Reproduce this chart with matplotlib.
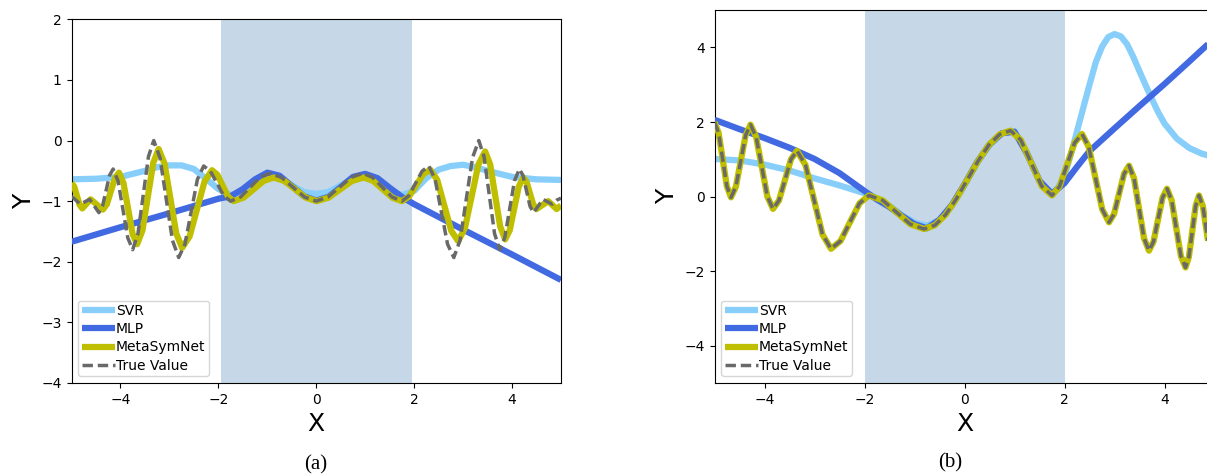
import matplotlib
matplotlib.use("Agg")
import matplotlib.pyplot as plt

# ---------------- Panel (a) data ----------------
true_a_x = [-5.0, -4.91, -4.82, -4.725, -4.63, -4.535, -4.44, -4.3675, -4.295, -4.2225,
            -4.15, -4.05, -3.95, -3.85, -3.75, -3.6425, -3.535, -3.4275, -3.32, -3.1925,
            -3.065, -2.9375, -2.81, -2.6825, -2.555, -2.4275, -2.30, -2.1625, -2.025, -1.8875,
            -1.75, -1.55, -1.35, -1.15, -0.95, -0.7125, -0.475, -0.2375, 0.0,
            0.2375, 0.475, 0.7125, 0.95, 1.15, 1.35, 1.55, 1.75, 1.8875, 2.025,
            2.1625, 2.30, 2.4275, 2.555, 2.6825, 2.81, 2.9375, 3.065, 3.1925, 3.32,
            3.4275, 3.535, 3.6425, 3.75, 3.85, 3.95, 4.05, 4.15, 4.2225, 4.295,
            4.3675, 4.44, 4.535, 4.63, 4.725, 4.82, 4.91, 5.0]
true_a_y = [-0.92, -0.985, -1.05, -1.01, -0.97, -1.08, -1.19, -1.085, -0.83, -0.575,
            -0.47, -0.664, -1.135, -1.606, -1.80, -1.537, -0.90, -0.263, 0.0, -0.282,
            -0.965, -1.648, -1.93, -1.71, -1.175, -0.64, -0.42, -0.505, -0.71, -0.915,
            -1.0, -0.933, -0.77, -0.607, -0.54, -0.607, -0.77, -0.933, -1.0,
            -0.933, -0.77, -0.607, -0.54, -0.607, -0.77, -0.933, -1.0, -0.915, -0.71,
            -0.505, -0.42, -0.64, -1.175, -1.71, -1.93, -1.648, -0.965, -0.282, 0.0,
            -0.263, -0.90, -1.537, -1.80, -1.606, -1.135, -0.664, -0.47, -0.575, -0.83,
            -1.085, -1.19, -1.08, -0.97, -1.01, -1.05, -0.985, -0.95]

meta_a_x = [-5.0, -4.945, -4.89, -4.835, -4.78, -4.695, -4.61, -4.485, -4.36, -4.2775,
            -4.195, -4.1125, -4.03, -3.9375, -3.845, -3.7525, -3.66, -3.55, -3.44, -3.33,
            -3.22, -3.10, -2.98, -2.86, -2.74, -2.5875, -2.435, -2.2825, -2.13, -2.02,
            -1.91, -1.80, -1.69, -1.485, -1.28, -1.075, -0.87, -0.65, -0.43, -0.21,
            0.01, 0.25, 0.49, 0.73, 0.97, 1.165, 1.36, 1.555, 1.75, 1.895,
            2.04, 2.185, 2.33, 2.4725, 2.615, 2.7575, 2.90, 3.0375, 3.175, 3.3125,
            3.45, 3.5525, 3.655, 3.7575, 3.86, 3.9525, 4.045, 4.1375, 4.23, 4.2975,
            4.365, 4.4325, 4.50, 4.62, 4.74, 4.825, 4.91, 5.0]
meta_a_y = [-0.70, -0.761, -0.91, -1.059, -1.12, -1.045, -0.97, -1.055, -1.14, -1.051,
            -0.835, -0.619, -0.53, -0.702, -1.12, -1.538, -1.71, -1.481, -0.925, -0.369,
            -0.14, -0.378, -0.955, -1.532, -1.77, -1.583, -1.13, -0.677, -0.49, -0.564,
            -0.745, -0.926, -1.0, -0.943, -0.805, -0.667, -0.61, -0.667, -0.805, -0.943,
            -1.0, -0.943, -0.805, -0.667, -0.61, -0.667, -0.805, -0.943, -1.0, -0.924,
            -0.74, -0.556, -0.48, -0.652, -1.07, -1.488, -1.66, -1.444, -0.92, -0.396,
            -0.18, -0.392, -0.905, -1.418, -1.63, -1.481, -1.12, -0.759, -0.61, -0.686,
            -0.87, -1.054, -1.13, -1.065, -1.0, -1.065, -1.13, -1.07]

svr_a_x = [-5.0, -4.5, -4.0, -3.5, -3.25, -3.0, -2.75, -2.5, -2.25, -2.0, -1.75, -1.5, -1.25,
           -1.0, -0.75, -0.5, -0.25, 0.0, 0.25, 0.5, 0.75, 1.0, 1.25, 1.5, 1.75, 2.0, 2.25,
           2.5, 2.75, 3.0, 3.25, 3.5, 4.0, 4.5, 5.0]
svr_a_y = [-0.64, -0.63, -0.60, -0.50, -0.44, -0.41, -0.41, -0.47, -0.63, -0.80, -0.90, -0.85,
           -0.70, -0.58, -0.62, -0.74, -0.85, -0.88, -0.85, -0.74, -0.62, -0.58, -0.68, -0.82,
           -0.90, -0.83, -0.62, -0.48, -0.42, -0.40, -0.44, -0.50, -0.60, -0.64, -0.65]

mlp_a_x = [-5.0, -4.0, -3.0, -2.0, -1.75, -1.5, -1.25, -1.0, -0.75, -0.5, -0.25, 0.0, 0.25,
           0.5, 0.75, 1.0, 1.25, 1.5, 1.75, 2.0, 3.0, 4.0, 5.0]
mlp_a_y = [-1.67, -1.43, -1.20, -0.96, -0.92, -0.80, -0.64, -0.53, -0.58, -0.75, -0.92, -0.99,
           -0.93, -0.77, -0.60, -0.55, -0.62, -0.78, -0.93, -1.05, -1.47, -1.88, -2.30]

# ---------------- Panel (b) data ----------------
true_b_x = [-5.0, -4.9175, -4.835, -4.7525, -4.67, -4.5725, -4.475, -4.3775, -4.28, -4.1675,
            -4.055, -3.9425, -3.83, -3.71, -3.59, -3.47, -3.35, -3.18, -3.01, -2.84,
            -2.67, -2.48, -2.29, -2.10, -1.91, -1.635, -1.36, -1.085, -0.81, -0.594,
            -0.3775, -0.161, 0.055, 0.271, 0.4875, 0.704, 0.92, 1.1275, 1.335, 1.5425,
            1.75, 1.90, 2.05, 2.20, 2.35, 2.485, 2.62, 2.755, 2.89, 2.99,
            3.09, 3.19, 3.29, 3.39, 3.49, 3.59, 3.69, 3.78, 3.87, 3.96,
            4.05, 4.1425, 4.235, 4.3275, 4.42, 4.4875, 4.555, 4.6225, 4.69, 4.7675,
            4.845, 4.9225, 5.0]
true_b_y = [2.0, 1.705, 0.99, 0.275, -0.02, 0.265, 0.955, 1.645, 1.93, 1.60,
            0.80, 0.0, -0.33, -0.102, 0.45, 1.002, 1.23, 0.846, -0.085, -1.016,
            -1.40, -1.191, -0.685, -0.179, 0.03, -0.101, -0.42, -0.739, -0.87, -0.77,
            -0.485, -0.054, 0.45, 0.954, 1.385, 1.67, 1.77, 1.516, 0.90, 0.284,
            0.03, 0.271, 0.855, 1.439, 1.68, 1.334, 0.495, -0.344, -0.69, -0.468,
            0.07, 0.608, 0.83, 0.497, -0.31, -1.117, -1.45, -1.208, -0.62, -0.032,
            0.21, -0.098, -0.845, -1.592, -1.90, -1.618, -0.935, -0.252, 0.03, -0.259,
            -0.96, -1.661, -1.95]
meta_b_x = list(true_b_x)
meta_b_y = list(true_b_y)

svr_b_x = [-5.0, -4.5, -4.0, -3.5, -3.0, -2.5, -2.0, -1.75, -1.5, -1.25, -1.0, -0.75, -0.5,
           -0.25, 0.0, 0.25, 0.5, 0.75, 1.0, 1.25, 1.5, 1.75, 1.875, 2.0, 2.125, 2.25, 2.375,
           2.5, 2.625, 2.75, 2.875, 3.0, 3.125, 3.25, 3.375, 3.5, 3.625, 3.75, 3.875, 4.0,
           4.25, 4.5, 4.75, 5.0]
svr_b_y = [1.01, 0.97, 0.86, 0.70, 0.49, 0.30, 0.09, -0.05, -0.25, -0.50, -0.70, -0.78, -0.63,
           -0.25, 0.30, 0.90, 1.38, 1.70, 1.75, 1.18, 0.43, 0.06, 0.25, 0.55, 1.12, 1.75, 2.38,
           3.00, 3.60, 4.02, 4.28, 4.36, 4.30, 4.09, 3.75, 3.36, 2.98, 2.61, 2.26, 1.96,
           1.55, 1.30, 1.15, 1.06]

mlp_b_x = [-5.0, -4.5, -4.0, -3.5, -3.0, -2.5, -2.0, -1.75, -1.5, -1.25, -1.0, -0.75, -0.5,
           -0.25, 0.0, 0.25, 0.5, 0.75, 1.0, 1.25, 1.5, 1.75, 2.0, 2.25, 2.5, 3.0, 3.5,
           4.0, 4.5, 5.0]
mlp_b_y = [2.06, 1.81, 1.57, 1.31, 1.01, 0.63, 0.15, -0.08, -0.28, -0.52, -0.74, -0.85, -0.62,
           -0.22, 0.33, 0.92, 1.40, 1.70, 1.74, 1.15, 0.42, 0.08, 0.36, 0.80, 1.22, 1.83, 2.43,
           3.02, 3.63, 4.25]

shade_a = (-1.95, 1.95)
shade_b = (-2.0, 2.0)

# ---------------- Drawing ----------------
plt.rcParams['font.family'] = ['DejaVu Sans']
W, H = 1207, 476
fig = plt.figure(figsize=(W / 100, H / 100), dpi=100)

ax_a = fig.add_axes([71.5 / W, 1 - 383 / H, (561 - 71.5) / W, (383 - 19.3) / H])
ax_b = fig.add_axes([714.5 / W, 1 - 383 / H, 500 / W, (383 - 10.2) / H])

SVR_C = '#87CEFA'
MLP_C = '#4169E1'
META_C = '#bfbf00'
TRUE_C = '#696969'
SHADE_C = '#c6d8e8'


def draw(ax, sx, sy, mx, my, tx, ty, gx, gy, shade):
    ax.axvspan(shade[0], shade[1], color=SHADE_C, lw=0, zorder=0)
    ax.plot(sx, sy, color=SVR_C, lw=4.5, label='SVR', zorder=2,
            solid_joinstyle='round', solid_capstyle='butt')
    ax.plot(mx, my, color=MLP_C, lw=4.5, label='MLP', zorder=3,
            solid_joinstyle='round', solid_capstyle='butt')
    ax.plot(tx, ty, color=META_C, lw=4.5, label='MetaSymNet', zorder=4,
            solid_joinstyle='round', solid_capstyle='butt')
    ax.plot(gx, gy, color=TRUE_C, lw=2.5, ls=(0, (3.0, 1.4)), label='True Value', zorder=5,
            dash_joinstyle='round')
    ax.set_xlim(-5, 5)
    ax.set_xlabel('X', fontsize=18)
    ax.set_ylabel('Y', fontsize=18)
    ax.tick_params(labelsize=10)
    ax.legend(loc='lower left', fontsize=10, handlelength=2.35, handletextpad=0.08,
              labelspacing=0.3, borderpad=0.25)


draw(ax_a, svr_a_x, svr_a_y, mlp_a_x, mlp_a_y, meta_a_x, meta_a_y, true_a_x, true_a_y, shade_a)
ax_a.set_ylim(-4, 2)
ax_a.set_xticks([-4, -2, 0, 2, 4])
ax_a.set_yticks([-4, -3, -2, -1, 0, 1, 2])

draw(ax_b, svr_b_x, svr_b_y, mlp_b_x, mlp_b_y, meta_b_x, meta_b_y, true_b_x, true_b_y, shade_b)
ax_b.set_ylim(-5, 5)
ax_b.set_xticks([-4, -2, 0, 2, 4])
ax_b.set_yticks([-4, -2, 0, 2, 4])

fig.text(316 / W, 1 - 465 / H, '(a)', ha='center', va='center',
         family=['Liberation Serif'], fontsize=15)
fig.text(950 / W, 1 - 463 / H, '(b)', ha='center', va='center',
         family=['Liberation Serif'], fontsize=15)

fig.savefig('out.png', dpi=100)
